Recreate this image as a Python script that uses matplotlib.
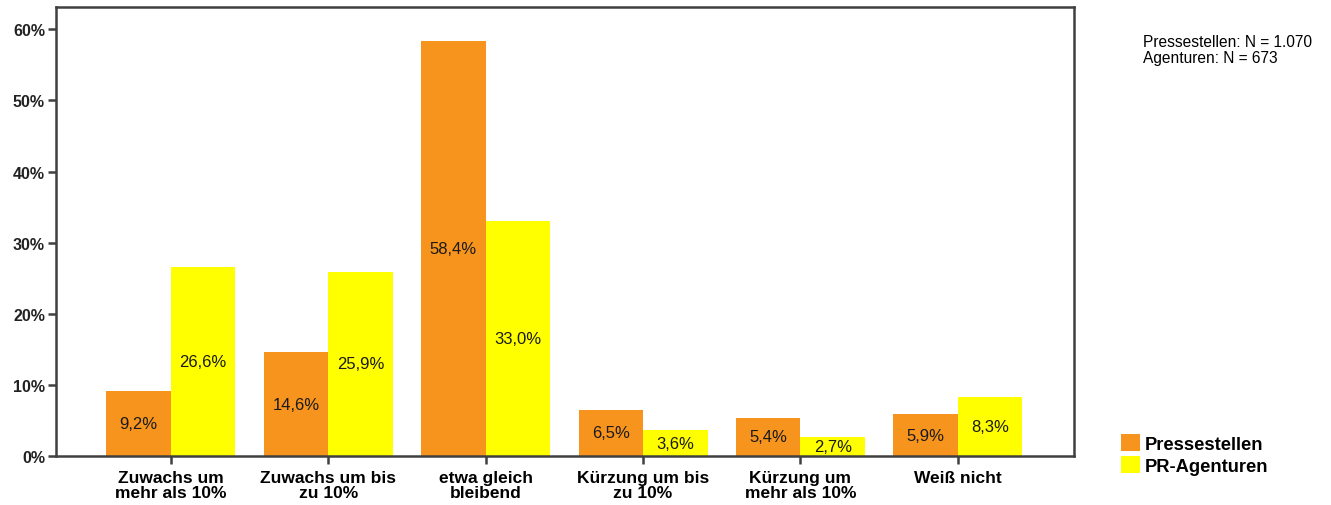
import matplotlib.pyplot as plt
import numpy as np
from matplotlib.patches import Patch

plt.rcParams['font.family'] = ['Liberation Sans', 'DejaVu Sans']

categories = ['Zuwachs um\nmehr als 10%', 'Zuwachs um bis\nzu 10%', 'etwa gleich\nbleibend',
              'Kürzung um bis\nzu 10%', 'Kürzung um\nmehr als 10%', 'Weiß nicht']
pressestellen = [9.2, 14.6, 58.4, 6.5, 5.4, 5.9]
agenturen = [26.6, 25.9, 33.0, 3.6, 2.7, 8.3]
yticks = [0, 10, 20, 30, 40, 50, 60]

orange = '#F7941D'
yellow = '#FFFF00'
frame = '#404040'

fig = plt.figure(figsize=(13.31, 5.06), dpi=100)
ax = fig.add_axes([0.0421, 0.0968, 0.765, 0.887])

x = np.arange(len(categories))
w = 0.41
b1 = ax.bar(x - w / 2, pressestellen, w, color=orange)
b2 = ax.bar(x + w / 2, agenturen, w, color=yellow)

for bars, vals in ((b1, pressestellen), (b2, agenturen)):
    for r, v in zip(bars, vals):
        ax.text(r.get_x() + r.get_width() / 2, v / 2, f'{v:.1f}%'.replace('.', ','),
                ha='center', va='center', fontsize=12, color='#1a1a1a')

ax.set_xlim(-0.73, 5.74)
ax.set_ylim(0, 63.1)
ax.set_yticks(yticks)
ax.set_yticklabels([f'{t}%' for t in yticks], fontsize=11.5, fontweight='bold', color='#222222')
ax.set_xticks(x)
ax.set_xticklabels(categories, fontsize=12.5, fontweight='bold', linespacing=0.98)
ax.tick_params(axis='y', direction='out', length=6, width=1.8, color=frame, pad=2)
ax.tick_params(axis='x', direction='out', length=6, width=1.8, color=frame, pad=4)

for s in ax.spines.values():
    s.set_color(frame)
    s.set_linewidth(1.8)

fig.text(0.859, 0.9, 'Pressestellen: N = 1.070\nAgenturen: N = 673',
         fontsize=11.2, va='center', ha='left', linespacing=1.05)

handles = [Patch(facecolor=orange, label='Pressestellen'),
           Patch(facecolor=yellow, label='PR-Agenturen')]
fig.legend(handles=handles, loc='center left', bbox_to_anchor=(0.830, 0.1),
           frameon=False, prop={'weight': 'bold', 'size': 13.2},
           handlelength=1.05, handleheight=1.05, handletextpad=0.25, labelspacing=0.2)

fig.savefig('out.png', dpi=100)
